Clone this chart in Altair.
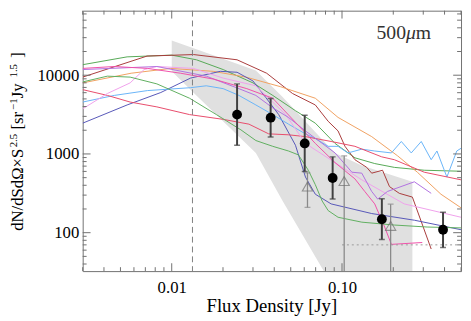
import altair as alt
import pandas as pd

# ---------------- data ----------------
curve_names = ["G1", "BR", "OR", "NV", "LB", "RP", "LP", "PU", "HP", "G2"]
curve_colors = ["#55a855", "#a83a3a", "#f0a060", "#5656b8", "#68b4f8",
                "#e84a6a", "#f0a0ec", "#b070e0", "#f050a8", "#5fae5f"]

g1_flux = [0.003, 0.00547, 0.0100, 0.01396, 0.02005, 0.0300, 0.0392, 0.0533, 0.0697, 0.0910, 0.1191, 0.1556, 0.203, 0.304, 0.50]
g1_val = [13600, 17100, 18000, 15700, 11800, 7990, 5540, 3540, 2460, 1360, 893, 755, 675, 621, 603]

br_flux = [0.003, 0.00716, 0.01343, 0.02419, 0.0361, 0.0512, 0.0697, 0.0829, 0.0948, 0.1041, 0.1191, 0.1397, 0.1494, 0.173, 0.190, 0.217, 0.259, 0.334]
br_val = [9460, 17500, 18300, 15700, 10600, 5860, 4190, 2600, 1960, 1250, 845, 675, 570, 621, 385, 316, 283, 62]

or_flux = [0.003, 0.00578, 0.00987, 0.01753, 0.0273, 0.0436, 0.0697, 0.0948, 0.1494, 0.212, 0.277, 0.381, 0.50]
or_val = [7990, 10600, 12200, 11200, 9460, 7140, 5100, 2910, 1660, 946, 586, 308, 207]

nv_flux = [0.003, 0.00547, 0.00863, 0.01289, 0.01928, 0.02419, 0.0300, 0.0356, 0.0425, 0.0533, 0.0610, 0.0697, 0.0863, 0.1494, 0.266, 0.50]
nv_val = [2460, 4190, 6030, 9190, 11200, 10900, 8450, 5240, 3160, 1290, 509, 308, 232, 175, 144, 109]

lb_flux = [0.003, 0.00460, 0.00720, 0.01289, 0.01596, 0.02005, 0.0248, 0.0312, 0.0392, 0.0485, 0.0610, 0.0697, 0.0829, 0.0948, 0.1083, 0.1307, 0.1556, 0.195, 0.223, 0.255, 0.292, 0.334, 0.361, 0.413, 0.472, 0.50]
lb_val = [4560, 5540, 6380, 6940, 7340, 6750, 5540, 4190, 3160, 2390, 1800, 1570, 1250, 1250, 1030, 1150, 1090, 1030, 1440, 1030, 1440, 845, 1090, 509, 1090, 1180]

rp_flux = [0.003, 0.00419, 0.00570, 0.00818, 0.01273, 0.02005, 0.0284, 0.0371, 0.0485, 0.0610, 0.0863, 0.1191, 0.171, 0.203, 0.304, 0.50]
rp_val = [6560, 5540, 4560, 3960, 3160, 2750, 2390, 1800, 1750, 1660, 1440, 1250, 919, 845, 586, 469]

lp_flux = [0.003, 0.00419, 0.00570, 0.00688, 0.00818, 0.01343, 0.02005, 0.0312, 0.0467, 0.0610, 0.0910, 0.1307, 0.232, 0.50]
lp_val = [3740, 5860, 7990, 11800, 12900, 12200, 9190, 7340, 3160, 1360, 776, 469, 232, 157]

pu_flux = [0.003, 0.00818, 0.01596, 0.0248, 0.0312, 0.0392, 0.0485, 0.0610, 0.0910, 0.1143, 0.1307, 0.1494, 0.162, 0.185, 0.266, 0.334]
pu_val = [11800, 12900, 9730, 6750, 5540, 3850, 2910, 1960, 1030, 586, 570, 334, 267, 334, 443, 316]

hp_flux = [0.003, 0.00460, 0.00720, 0.01128, 0.01753, 0.0276, 0.0392, 0.0533, 0.0697, 0.0910, 0.1191, 0.136, 0.1556, 0.178, 0.195, 0.296]
hp_val = [12200, 12900, 12200, 10600, 8940, 6750, 5100, 2520, 1360, 776, 482, 334, 232, 118, 71, 75]

g2_flux = [0.003, 0.00419, 0.00570, 0.00818, 0.01273, 0.0183, 0.0255, 0.0312, 0.0392, 0.0485, 0.0555, 0.0634, 0.0697, 0.0765, 0.0829, 0.0948, 0.1307, 0.203, 0.316, 0.50]
g2_val = [8220, 9730, 9460, 7760, 5100, 3160, 2020, 1480, 1250, 1090, 972, 621, 407, 252, 191, 157, 136, 125, 118, 115]

# observed counts (filled circles) with error bars
obs_flux = [0.0242, 0.0381, 0.0604, 0.0881, 0.1714, 0.392]
obs_val = [3160, 2890, 1361, 495, 148, 109]
obs_hi = [7760, 5060, 3100, 918, 269, 182]
obs_lo = [1288, 1645, 599, 267, 82, 65]

# open triangles with error bars
tri_flux = [0.0627, 0.103, 0.193]
tri_val = [385, 452, 122]
tri_hi = [575, 946, 230]
tri_lo = [209, 10, 10]

# shaded region (upper / lower boundary)
shade_flux = [0.0100, 0.01396, 0.0312, 0.0448, 0.0785, 0.0910, 0.1307, 0.259]
shade_hi = [27500, 21300, 11500, 5300, 1440, 1030, 714, 443]
shade_lo = [11200, 5540, 1030, 252, 32, 10, 10, 10]

vline_flux = [0.01324]
hline_flux = [0.1, 0.5]
hline_val = [70, 70]

x_major = [0.01, 0.1]
x_minor = [0.003, 0.004, 0.005, 0.006, 0.007, 0.008, 0.009,
           0.02, 0.03, 0.04, 0.05, 0.06, 0.07, 0.08, 0.09, 0.2, 0.3, 0.4, 0.5]
y_major = [100, 1000, 10000]
y_minor = [40, 50, 60, 70, 80, 90, 200, 300, 400, 500, 600, 700, 800, 900,
           2000, 3000, 4000, 5000, 6000, 7000, 8000, 9000,
           20000, 30000, 40000, 50000, 60000]

# ---------------- chart ----------------
W, H = 385, 265
FONT = "Liberation Serif"
AX = "#707070"
xs = alt.Scale(type="log", domain=[0.003, 0.5], nice=False)
ys = alt.Scale(type="log", domain=[32.5, 66000], nice=False)
xaxis = alt.Axis(values=x_major, labelExpr="datum.value < 0.05 ? '0.01' : '0.10'",
                 ticks=False, tickSize=0, domain=False, grid=False, labelFont=FONT,
                 labelFontSize=17, labelColor="#000", labelPadding=9, title=None)
yaxis = alt.Axis(values=y_major, format="d", ticks=False, tickSize=0, domain=False,
                 grid=False, labelFont=FONT, labelFontSize=17, labelColor="#000",
                 labelPadding=4, title=None)


def X(f):
    return alt.X(f"{f}:Q", scale=xs, axis=xaxis)


def Y(f):
    return alt.Y(f"{f}:Q", scale=ys, axis=yaxis)


series = {
    "G1": (g1_flux, g1_val), "BR": (br_flux, br_val), "OR": (or_flux, or_val),
    "NV": (nv_flux, nv_val), "LB": (lb_flux, lb_val), "RP": (rp_flux, rp_val),
    "LP": (lp_flux, lp_val), "PU": (pu_flux, pu_val), "HP": (hp_flux, hp_val),
    "G2": (g2_flux, g2_val),
}
rows = []
for name, (fx, fv) in series.items():
    for i, (a, b) in enumerate(zip(fx, fv)):
        rows.append({"model": name, "flux": a, "val": b, "ord": i})
curves_df = pd.DataFrame(rows)

shade = alt.Chart(pd.DataFrame({"flux": shade_flux, "hi": shade_hi, "lo": shade_lo})).mark_area(
    color="#e0e0e0", clip=True).encode(x=X("flux"), y=Y("hi"), y2="lo:Q")

curves = alt.Chart(curves_df).mark_line(strokeWidth=1, clip=True).encode(
    x=X("flux"), y=Y("val"), order="ord:Q",
    color=alt.Color("model:N", scale=alt.Scale(domain=curve_names, range=curve_colors), legend=None))

vline = alt.Chart(pd.DataFrame({"flux": vline_flux})).mark_rule(
    color="#808080", strokeDash=[6, 4], strokeWidth=1).encode(x=X("flux"))

hline = alt.Chart(pd.DataFrame({"flux": hline_flux, "val": hline_val})).mark_line(
    color="#999999", strokeDash=[2, 3], strokeWidth=1, clip=True).encode(x=X("flux"), y=Y("val"))

tri_df = pd.DataFrame({"flux": tri_flux, "val": tri_val, "hi": tri_hi, "lo": tri_lo})
tri_bars = alt.Chart(tri_df).mark_rule(color="#8a8a8a", strokeWidth=1.3, clip=True).encode(
    x=X("flux"), y=Y("lo"), y2="hi:Q")
tri_caps = alt.Chart(pd.DataFrame({"flux": tri_flux * 2, "v": tri_hi + tri_lo})).mark_tick(
    orient="horizontal", size=6, thickness=1.3, color="#8a8a8a", clip=True).encode(x=X("flux"), y=Y("v"))
tri_pts = alt.Chart(tri_df).mark_point(shape="triangle-up", filled=False, size=110,
                                       color="#707070", strokeWidth=1.1).encode(x=X("flux"), y=Y("val"))

obs_df = pd.DataFrame({"flux": obs_flux, "val": obs_val, "hi": obs_hi, "lo": obs_lo})
obs_bars = alt.Chart(obs_df).mark_rule(color="#404040", strokeWidth=2, clip=True).encode(
    x=X("flux"), y=Y("lo"), y2="hi:Q")
obs_caps = alt.Chart(pd.DataFrame({"flux": obs_flux * 2, "v": obs_hi + obs_lo})).mark_tick(
    orient="horizontal", size=6, thickness=1.5, color="#404040", clip=True).encode(x=X("flux"), y=Y("v"))
obs_pts = alt.Chart(obs_df).mark_point(shape="circle", filled=True, size=100, color="#000000",
                                       opacity=1).encode(x=X("flux"), y=Y("val"))

# inward ticks on all four sides
x_maj_df = pd.DataFrame({"t": x_major})
x_min_df = pd.DataFrame({"t": x_minor})
y_maj_df = pd.DataFrame({"t": y_major})
y_min_df = pd.DataFrame({"t": y_minor})

tick_layers = []
for dfx, ln in ((x_maj_df, 8), (x_min_df, 4)):
    tick_layers.append(alt.Chart(dfx).mark_rule(color=AX, strokeWidth=1).encode(
        x=X("t"), y=alt.value(H), y2=alt.value(H - ln)))
    tick_layers.append(alt.Chart(dfx).mark_rule(color=AX, strokeWidth=1).encode(
        x=X("t"), y=alt.value(0), y2=alt.value(ln)))
for dfy, ln in ((y_maj_df, 8), (y_min_df, 4)):
    tick_layers.append(alt.Chart(dfy).mark_rule(color=AX, strokeWidth=1).encode(
        y=Y("t"), x=alt.value(0), x2=alt.value(ln)))
    tick_layers.append(alt.Chart(dfy).mark_rule(color=AX, strokeWidth=1).encode(
        y=Y("t"), x=alt.value(W), x2=alt.value(W - ln)))


# texts
def txt(s, x, y, size, angle=0, color="#000", align="left", style="normal"):
    return alt.Chart(pd.DataFrame({"s": [s]})).mark_text(
        font=FONT, fontSize=size, angle=angle, color=color, align=align,
        baseline="alphabetic", fontStyle=style
    ).encode(text="s:N", x=alt.value(x), y=alt.value(y))


MX, SX = -61, -67   # baseline of main / superscript parts of the y title
texts = [
    txt("Flux Density [Jy]", 192.5, 307, 19, align="center"),
    txt("500", 299, 29, 20, color="#333333"),
    txt("\u03bc", 329, 29, 20, color="#333333", style="italic"),
    txt("m", 339, 29, 20, color="#333333"),
    txt("dN/dSd\u03a9\u00d7S", MX, 224, 17, angle=270),
    txt("2.5", SX, 139, 11, angle=270),
    txt("[sr", MX, 121, 17, angle=270),
    txt("\u22121", SX, 101, 11, angle=270),
    txt("Jy", MX, 89, 17, angle=270),
    txt("1.5", SX, 68, 11, angle=270),
    txt("]", MX, 48, 17, angle=270),
]

chart = alt.layer(
    shade, curves, vline, hline, tri_bars, tri_caps, tri_pts, obs_bars, obs_caps, obs_pts,
    *tick_layers, *texts
).properties(
    width=W, height=H,
    autosize=alt.AutoSizeParams(type="none"),
    padding={"left": 76, "top": 0, "right": 2, "bottom": 46},
    background="white",
).configure_view(stroke=AX, strokeWidth=1)

chart.save("out.html", embed_options={"renderer": "svg", "actions": False})
